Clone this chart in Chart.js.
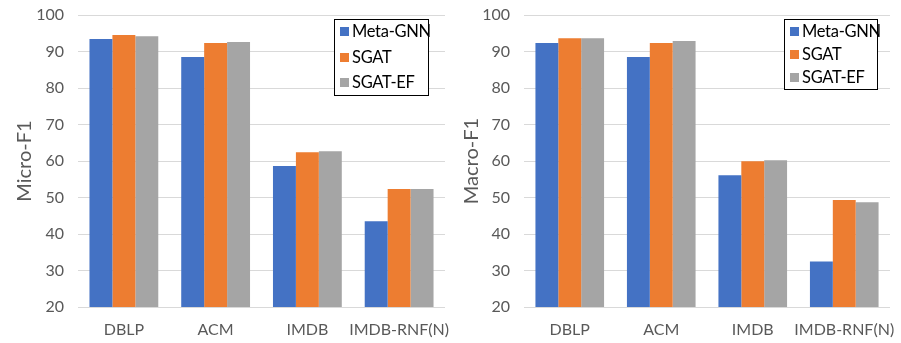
<!DOCTYPE html>
<html>
<head>
<meta charset="utf-8">
<script src="https://cdn.jsdelivr.net/npm/chart.js@4.4.0/dist/chart.umd.min.js"></script>
<style>
  html, body { margin: 0; padding: 0; background: #fff; }
  #wrap { position: relative; width: 901px; height: 343px; }
  .panel { position: absolute; top: 0; height: 343px; }
  .legend {
    position: absolute; border: 1.5px solid #000; background: #fff;
    font-family: Lato, sans-serif; font-size: 16.5px; letter-spacing: -0.3px; color: #000; box-sizing: border-box;
  }
  .legend .item { position: absolute; left: 5px; display: flex; align-items: center; height: 20px; white-space: nowrap; }
  .legend .sw { width: 9px; height: 9px; margin-right: 3px; flex: none; }
</style>
</head>
<body>
<div id="wrap">
  <div class="panel" style="left:0;width:450px"><canvas id="micro"></canvas></div>
  <div class="panel" style="left:450px;width:451px"><canvas id="macro"></canvas></div>
  <div class="legend" id="leg1" style="left:334px;top:19px;width:95px;height:77px"></div>
  <div class="legend" id="leg2" style="left:784px;top:19px;width:94px;height:71px"></div>
</div>
<script>
// data
const categories = ['DBLP', 'ACM', 'IMDB', 'IMDB-RNF(N)'];
const seriesNames = ['Meta-GNN', 'SGAT', 'SGAT-EF'];
const colors = ['#4472C4', '#ED7D31', '#A5A5A5'];

const microMetaGNN = [93.4, 88.5, 58.6, 43.5];
const microSGAT = [94.5, 92.3, 62.4, 52.3];
const microSGATEF = [94.2, 92.6, 62.7, 52.3];

const macroMetaGNN = [92.3, 88.5, 56.1, 32.5];
const macroSGAT = [93.6, 92.3, 59.9, 49.3];
const macroSGATEF = [93.6, 92.9, 60.2, 48.7];

const yTicks = [20, 30, 40, 50, 60, 70, 80, 90, 100];

const FONT = 'Lato';

function makeChart(id, title, series, yWidth, titlePad, rightPad) {
    new Chart(document.getElementById(id), {
        type: 'bar',
        data: {
            labels: categories,
            datasets: series.map((d, i) => ({
                label: seriesNames[i],
                data: d,
                backgroundColor: colors[i],
                borderWidth: 0,
                categoryPercentage: 0.75,
                barPercentage: 1.0
            }))
        },
        options: {
            responsive: true,
            maintainAspectRatio: false,
            animation: false,
            layout: { padding: { top: 15, right: rightPad, left: 0, bottom: 0 } },
            plugins: { legend: { display: false }, tooltip: { enabled: false } },
            scales: {
                x: {
                    grid: { display: false },
                    border: { display: false },
                    ticks: { color: '#595959', font: { family: FONT, size: 16 }, padding: 5, maxRotation: 0, autoSkip: false },
                    afterFit: s => { s.height = 36; s.paddingLeft = 0; s.paddingRight = 0; }
                },
                y: {
                    min: 20, max: 100,
                    afterBuildTicks: s => { s.ticks = yTicks.map(v => ({ value: v })); },
                    grid: { color: '#D9D9D9', lineWidth: 1, drawTicks: false },
                    border: { display: false },
                    ticks: { color: '#595959', font: { family: FONT, size: 16 }, padding: 14 },
                    title: { display: true, text: title, color: '#595959', font: { family: FONT, size: 20 }, padding: { top: titlePad, bottom: 0 } },
                    afterFit: s => { s.width = yWidth; s.paddingTop = 0; s.paddingBottom = 0; }
                }
            }
        }
    });
}

function makeLegend(id, tops) {
    const el = document.getElementById(id);
    seriesNames.forEach((n, i) => {
        const it = document.createElement('div');
        it.className = 'item';
        it.style.top = tops[i] + 'px';
        it.innerHTML = `<span class="sw" style="background:${colors[i]}"></span><span>${n}</span>`;
        el.appendChild(it);
    });
}

makeChart('micro', 'Micro-F1', [microMetaGNN, microSGAT, microSGATEF], 78, 13, 5);
makeChart('macro', 'Macro-F1', [macroMetaGNN, macroSGAT, macroSGATEF], 74, 10, 11);
makeLegend('leg1', [1, 27, 52]);
makeLegend('leg2', [1, 24, 47]);
</script>
</body>
</html>
